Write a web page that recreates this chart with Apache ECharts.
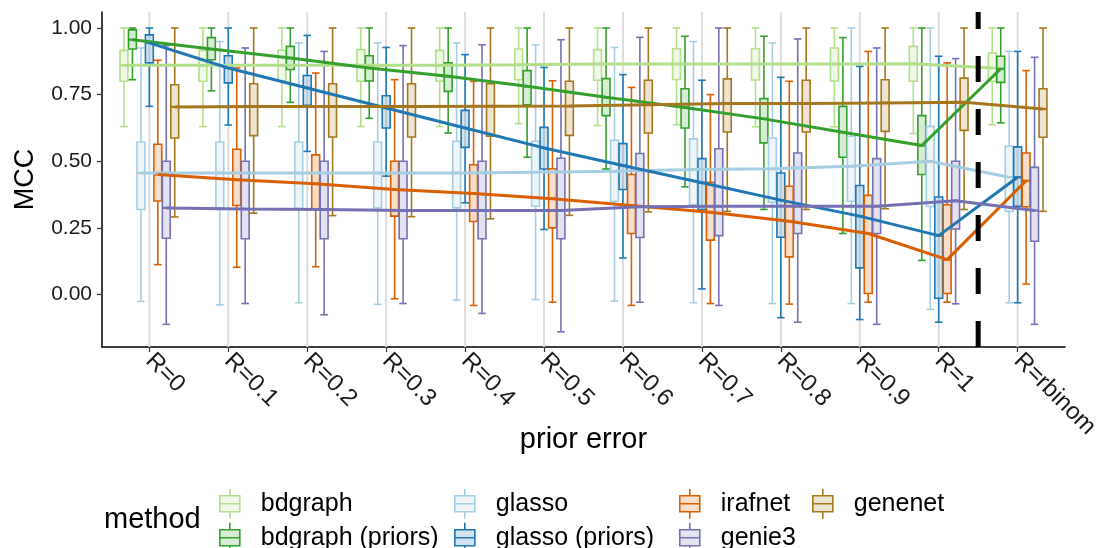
<!DOCTYPE html>
<html>
<head>
<meta charset="utf-8">
<script src="https://cdn.jsdelivr.net/npm/echarts@6/dist/echarts.min.js"></script>
<style>
  html, body { margin: 0; padding: 0; background: #fff; }
  #chart { width: 1097px; height: 548px; }
</style>
</head>
<body>
<div id="chart"></div>
<script>
// Prior-error levels on the x axis
const categories = ['R=0', 'R=0.1', 'R=0.2', 'R=0.3', 'R=0.4', 'R=0.5', 'R=0.6', 'R=0.7', 'R=0.8', 'R=0.9', 'R=1', 'R=rbinom'];
const methods = ['bdgraph', 'bdgraph (priors)', 'glasso', 'glasso (priors)', 'irafnet', 'genie3', 'genenet'];
const colors = ['#B2DF8A', '#33A02C', '#A6CEE3', '#1F78B4', '#D95F02', '#7570B3', '#A6761D'];
const yTicks = [0, 0.25, 0.5, 0.75, 1];

// MCC summaries per level: [lower whisker, Q1, median, Q3, upper whisker]
const bdgraph = [
  [0.630, 0.800, 0.860, 0.916, 1.0], [0.630, 0.800, 0.860, 0.916, 1.0], [0.630, 0.800, 0.860, 0.916, 1.0],
  [0.630, 0.800, 0.860, 0.919, 1.0], [0.630, 0.800, 0.860, 0.916, 1.0], [0.641, 0.806, 0.862, 0.921, 1.0],
  [0.634, 0.804, 0.865, 0.919, 1.0], [0.637, 0.807, 0.865, 0.922, 1.0], [0.629, 0.805, 0.865, 0.922, 1.0],
  [0.629, 0.801, 0.865, 0.925, 1.0], [0.604, 0.800, 0.866, 0.931, 1.0], [0.637, 0.800, 0.850, 0.906, 1.0]
];
const bdgraphPriors = [
  [0.806, 0.921, 0.956, 0.993, 1.0], [0.764, 0.881, 0.921, 0.964, 1.0], [0.721, 0.844, 0.887, 0.931, 1.0],
  [0.661, 0.801, 0.850, 0.896, 1.0], [0.606, 0.762, 0.819, 0.869, 1.0], [0.515, 0.712, 0.781, 0.840, 1.0],
  [0.471, 0.671, 0.740, 0.810, 1.0], [0.404, 0.625, 0.702, 0.772, 0.969], [0.319, 0.569, 0.659, 0.735, 0.969],
  [0.229, 0.515, 0.609, 0.706, 0.964], [0.128, 0.450, 0.559, 0.671, 1.0], [0.644, 0.796, 0.847, 0.894, 1.0]
];
const glasso = [
  [-0.026, 0.319, 0.456, 0.572, 0.925], [-0.039, 0.319, 0.456, 0.572, 0.949], [-0.031, 0.323, 0.456, 0.572, 0.944],
  [-0.037, 0.325, 0.456, 0.572, 0.944], [-0.021, 0.325, 0.456, 0.575, 0.944], [-0.019, 0.331, 0.459, 0.575, 0.937],
  [-0.025, 0.350, 0.462, 0.579, 0.927], [-0.031, 0.337, 0.469, 0.584, 0.949], [-0.034, 0.346, 0.472, 0.587, 0.944],
  [-0.034, 0.350, 0.481, 0.594, 1.0], [-0.056, 0.330, 0.500, 0.631, 1.0], [-0.031, 0.312, 0.440, 0.556, 0.912]
];
const glassoPriors = [
  [0.706, 0.869, 0.944, 0.974, 1.0], [0.636, 0.794, 0.850, 0.896, 1.0], [0.537, 0.710, 0.775, 0.822, 0.972],
  [0.444, 0.625, 0.700, 0.746, 0.927], [0.344, 0.552, 0.625, 0.691, 0.900], [0.244, 0.471, 0.550, 0.627, 0.852],
  [0.137, 0.394, 0.484, 0.566, 0.825], [0.021, 0.319, 0.419, 0.510, 0.804], [-0.087, 0.215, 0.354, 0.456, 0.815],
  [-0.094, 0.100, 0.294, 0.409, 0.856], [-0.104, -0.014, 0.221, 0.366, 0.894], [-0.031, 0.331, 0.440, 0.554, 0.912]
];
const irafnet = [
  [0.112, 0.351, 0.450, 0.564, 0.879], [0.102, 0.334, 0.431, 0.545, 0.850], [0.104, 0.321, 0.416, 0.524, 0.831],
  [-0.016, 0.294, 0.394, 0.500, 0.806], [-0.041, 0.274, 0.379, 0.487, 0.800], [-0.029, 0.250, 0.359, 0.472, 0.802],
  [-0.041, 0.229, 0.334, 0.450, 0.777], [-0.034, 0.204, 0.309, 0.421, 0.750], [-0.036, 0.141, 0.275, 0.406, 0.800],
  [-0.029, 0.004, 0.229, 0.372, 0.912], [-0.029, 0.004, 0.131, 0.337, 0.869], [0.039, 0.329, 0.427, 0.531, 0.840]
];
const genie3 = [
  [-0.112, 0.211, 0.325, 0.500, 0.934], [-0.034, 0.209, 0.321, 0.500, 0.925], [-0.076, 0.209, 0.319, 0.500, 0.912],
  [-0.034, 0.209, 0.315, 0.500, 0.934], [-0.071, 0.209, 0.315, 0.500, 0.937], [-0.140, 0.209, 0.315, 0.511, 0.956],
  [-0.029, 0.214, 0.329, 0.529, 0.965], [-0.041, 0.221, 0.331, 0.547, 1.0], [-0.104, 0.229, 0.331, 0.531, 0.959],
  [-0.112, 0.229, 0.331, 0.510, 0.925], [-0.035, 0.246, 0.352, 0.500, 0.885], [-0.112, 0.200, 0.315, 0.477, 0.890]
];
const genenet = [
  [0.291, 0.587, 0.704, 0.787, 1.0], [0.305, 0.596, 0.705, 0.791, 1.0], [0.296, 0.591, 0.705, 0.791, 1.0],
  [0.292, 0.591, 0.705, 0.791, 1.0], [0.284, 0.594, 0.706, 0.791, 1.0], [0.297, 0.597, 0.707, 0.800, 1.0],
  [0.310, 0.606, 0.712, 0.804, 1.0], [0.312, 0.610, 0.717, 0.809, 1.0], [0.319, 0.610, 0.717, 0.804, 1.0],
  [0.322, 0.612, 0.719, 0.806, 1.0], [0.319, 0.616, 0.721, 0.812, 1.0], [0.312, 0.590, 0.696, 0.772, 1.0]
];
const summaries = [bdgraph, bdgraphPriors, glasso, glassoPriors, irafnet, genie3, genenet];

// Boundary between the fixed-R levels and the rbinom level
const separatorAt = 10.5;

const FONT = '"Liberation Sans", Arial, Helvetica, sans-serif';
const DODGE = 0.75;                       // total dodge width per level
const SLOT = DODGE / methods.length;      // one box slot
const BOX_W = SLOT * 0.93;
const CAP_W = SLOT * 0.9;
const Y_MIN = -0.197, Y_MAX = 1.06;

function hexToRgba(hex, a) {
  const n = parseInt(hex.slice(1), 16);
  return 'rgba(' + (n >> 16 & 255) + ',' + (n >> 8 & 255) + ',' + (n & 255) + ',' + a + ')';
}
function dodged(catIdx, methodIdx) {
  return catIdx + (methodIdx - (methods.length - 1) / 2) * SLOT;
}

function renderBox(j, api) {
  const x = api.value(0);
  const lo = api.coord([x, api.value(1)]);
  const q1 = api.coord([x, api.value(2)]);
  const md = api.coord([x, api.value(3)]);
  const q3 = api.coord([x, api.value(4)]);
  const hi = api.coord([x, api.value(5)]);
  const hw = api.size([BOX_W, 0])[0] / 2;
  const cw = api.size([CAP_W, 0])[0] / 2;
  const col = colors[j];
  const stroke = { stroke: col, lineWidth: 1.6, fill: null };
  return {
    type: 'group',
    children: [
      { type: 'line', shape: { x1: hi[0], y1: hi[1], x2: q3[0], y2: q3[1] }, style: stroke },
      { type: 'line', shape: { x1: q1[0], y1: q1[1], x2: lo[0], y2: lo[1] }, style: stroke },
      { type: 'line', shape: { x1: hi[0] - cw, y1: hi[1], x2: hi[0] + cw, y2: hi[1] }, style: stroke },
      { type: 'line', shape: { x1: lo[0] - cw, y1: lo[1], x2: lo[0] + cw, y2: lo[1] }, style: stroke },
      { type: 'rect', shape: { x: q3[0] - hw, y: q3[1], width: hw * 2, height: q1[1] - q3[1] },
        style: { stroke: col, lineWidth: 1.6, fill: hexToRgba(col, 0.2) } },
      { type: 'line', shape: { x1: md[0] - hw, y1: md[1], x2: md[0] + hw, y2: md[1] },
        style: { stroke: col, lineWidth: 2.2 } }
    ]
  };
}

const series = [];
// vertical guide lines at each level
series.push({
  type: 'custom', name: '_guides', silent: true, z: 1,
  data: categories.map((c, i) => [i]),
  encode: { x: 0 },
  renderItem: (p, api) => {
    const a = api.coord([api.value(0), Y_MIN]);
    const b = api.coord([api.value(0), Y_MAX]);
    return { type: 'line', shape: { x1: a[0], y1: a[1], x2: b[0], y2: b[1] },
             style: { stroke: '#dcdcdc', lineWidth: 2 } };
  }
});
// boxes
methods.forEach((m, j) => {
  series.push({
    type: 'custom', name: m, z: 2,
    data: summaries[j].map((s, i) => [dodged(i, j)].concat(s)),
    encode: { x: 0, y: [1, 2, 3, 4, 5] },
    renderItem: (params, api) => renderBox(j, api)
  });
});
// median trend lines
methods.forEach((m, j) => {
  series.push({
    type: 'line', name: m, z: 3, symbol: 'none', silent: true,
    lineStyle: { color: colors[j], width: 3 },
    itemStyle: { color: colors[j] },
    data: summaries[j].map((s, i) => [dodged(i, j), s[2]])
  });
});
// dashed separator before rbinom
series.push({
  type: 'custom', name: '_separator', silent: true, z: 4,
  data: [[separatorAt]],
  encode: { x: 0 },
  renderItem: (p, api) => {
    const a = api.coord([api.value(0), Y_MIN]);
    const b = api.coord([api.value(0), Y_MAX]);
    return { type: 'line', shape: { x1: a[0], y1: a[1], x2: b[0], y2: b[1] },
             style: { stroke: '#000', lineWidth: 5, lineDash: [26, 27], lineCap: 'butt' } };
  }
});

const keyIcon = 'path://M12,0 L12,7 M12,23 L12,30 M2,7 L22,7 L22,23 L2,23 Z M2,15 L22,15';
const legendPos = [
  [219, 488], [219, 522], [454, 488], [454, 522], [679, 488], [679, 522], [812, 488]
];
const legends = methods.map((m, j) => ({
  left: legendPos[j][0], top: legendPos[j][1], padding: 0,
  itemWidth: 24, itemHeight: 30, selectedMode: false,
  textStyle: { fontSize: 25, color: '#000', fontFamily: FONT, padding: [0, 0, 0, 14] },
  data: [{ name: m, icon: keyIcon,
           itemStyle: { color: hexToRgba(colors[j], 0.2), borderColor: colors[j], borderWidth: 1.6 } }]
}));

const chart = echarts.init(document.getElementById('chart'), null, { renderer: 'canvas' });
chart.setOption({
  animation: false,
  backgroundColor: '#fff',
  textStyle: { fontFamily: FONT },
  title: { text: 'method', left: 104, top: 505, padding: 0,
           textStyle: { fontSize: 29, fontWeight: 'normal', color: '#000', fontFamily: FONT } },
  legend: legends,
  grid: { left: 102, right: 32, top: 12, bottom: 201, containLabel: false, outerBoundsMode: 'none' },
  xAxis: {
    type: 'value', min: -0.6, max: 11.6,
    name: 'prior error', nameLocation: 'middle', nameGap: 78, nameMoveOverlap: false,
    nameTextStyle: { fontSize: 29, color: '#000', fontFamily: FONT },
    axisLine: { show: true, onZero: false, lineStyle: { color: '#000', width: 1.5 } },
    axisTick: { show: true, customValues: categories.map((c, i) => i), length: 5, lineStyle: { color: '#333', width: 1.2 } },
    axisLabel: { customValues: categories.map((c, i) => i), formatter: v => categories[Math.round(v)],
                 rotate: -45, fontSize: 24, color: '#1a1a1a', margin: 10, fontFamily: FONT },
    splitLine: { show: false }
  },
  yAxis: {
    type: 'value', min: Y_MIN, max: Y_MAX,
    name: 'MCC', nameLocation: 'middle', nameGap: 63, nameMoveOverlap: false,
    nameTextStyle: { fontSize: 27, color: '#000', fontFamily: FONT },
    axisLine: { show: true, onZero: false, lineStyle: { color: '#000', width: 1.5 } },
    axisTick: { show: true, customValues: yTicks, length: 5, lineStyle: { color: '#333', width: 1.2 } },
    axisLabel: { customValues: yTicks, formatter: v => v.toFixed(2), fontSize: 21, color: '#1a1a1a', margin: 10, fontFamily: FONT },
    splitLine: { show: false }
  },
  series: series
});
</script>
</body>
</html>
